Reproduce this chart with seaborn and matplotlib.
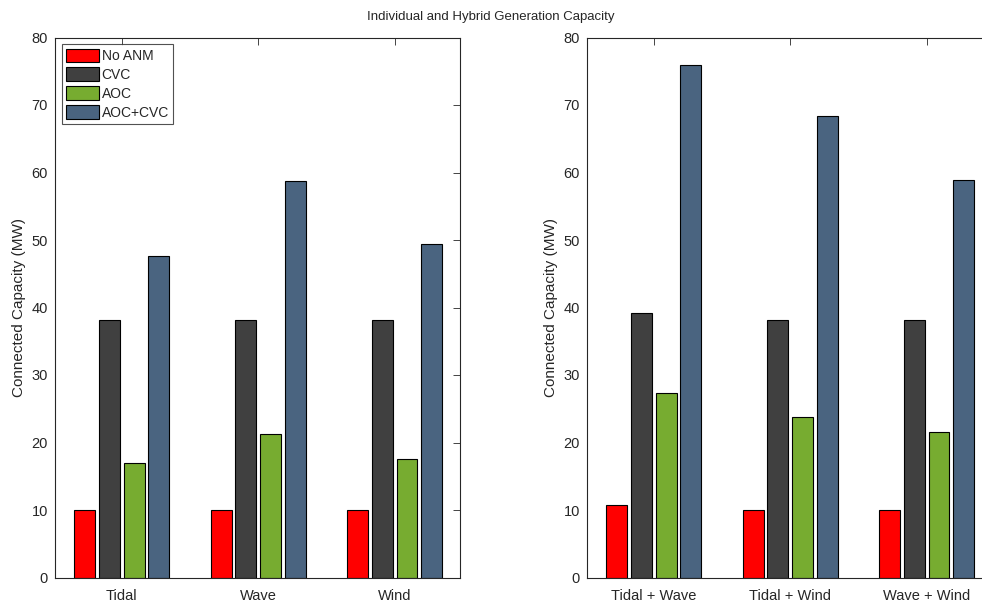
import matplotlib
matplotlib.use("Agg")
import matplotlib.pyplot as plt
import seaborn as sns
import pandas as pd

series = ["No ANM", "CVC", "AOC", "AOC+CVC"]
colors = ["#FF0000", "#404040", "#77AC30", "#4A6480"]

left_categories = ["Tidal", "Wave", "Wind"]
left_no_anm = [10.0, 10.0, 10.0]
left_cvc = [38.2, 38.2, 38.2]
left_aoc = [17.0, 21.3, 17.6]
left_aoc_cvc = [47.6, 58.7, 49.4]

right_categories = ["Tidal + Wave", "Tidal + Wind", "Wave + Wind"]
right_no_anm = [10.7, 10.0, 10.0]
right_cvc = [39.2, 38.2, 38.2]
right_aoc = [27.3, 23.8, 21.5]
right_aoc_cvc = [76.0, 68.4, 58.9]

yticks = [0, 10, 20, 30, 40, 50, 60, 70, 80]


def make_df(cats, vals):
    rows = []
    for s, v in zip(series, vals):
        for c, x in zip(cats, v):
            rows.append({"cat": c, "series": s, "value": x})
    return pd.DataFrame(rows)


sns.set_style("white")
plt.rcParams["font.family"] = ["Liberation Sans", "DejaVu Sans"]

fig = plt.figure(figsize=(9.82, 6.03), dpi=100)
ax1 = fig.add_axes([55 / 982, 25.5 / 603, 405 / 982, 540 / 603])
ax2 = fig.add_axes([587 / 982, 25.5 / 603, 405 / 982, 540 / 603])

datasets = [
    (ax1, left_categories, [left_no_anm, left_cvc, left_aoc, left_aoc_cvc]),
    (ax2, right_categories, [right_no_anm, right_cvc, right_aoc, right_aoc_cvc]),
]

for ax, cats, vals in datasets:
    df = make_df(cats, vals)
    sns.barplot(data=df, x="cat", y="value", hue="series", order=cats,
                hue_order=series, palette=colors, width=0.724, gap=0.16,
                edgecolor="black", linewidth=0.8, saturation=1.0,
                legend=False, ax=ax, errorbar=None)
    ax.set_xlim(-0.49, 2.48)
    ax.set_ylim(0, 80)
    ax.set_yticks(yticks)
    ax.set_yticklabels([str(t) for t in yticks])
    ax.set_xlabel("")
    ax.set_ylabel("Connected Capacity (MW)", fontsize=11, color="#262626")
    ax.tick_params(axis="both", direction="in", length=5, width=0.6,
                   colors="#262626", labelsize=10.5, top=True, right=True,
                   labelcolor="#262626")
    ax.tick_params(axis="x", pad=8)
    ax.tick_params(axis="y", pad=5)
    for sp in ax.spines.values():
        sp.set_visible(True)
        sp.set_color("#262626")
        sp.set_linewidth(0.8)

handles = [c.patches[0] for c in ax1.containers]
leg = ax1.legend(handles, series, loc="upper left", fontsize=10,
                 frameon=True, fancybox=False, edgecolor="#262626",
                 handlelength=2.4, handleheight=1.15, handletextpad=0.15,
                 labelspacing=0.3, borderpad=0.3, borderaxespad=0.5)
leg.get_frame().set_linewidth(0.8)

fig.text(0.5, 1 - 17 / 603, "Individual and Hybrid Generation Capacity",
         ha="center", va="center", fontsize=9.5, color="#262626")

fig.savefig("out.png", dpi=100)
